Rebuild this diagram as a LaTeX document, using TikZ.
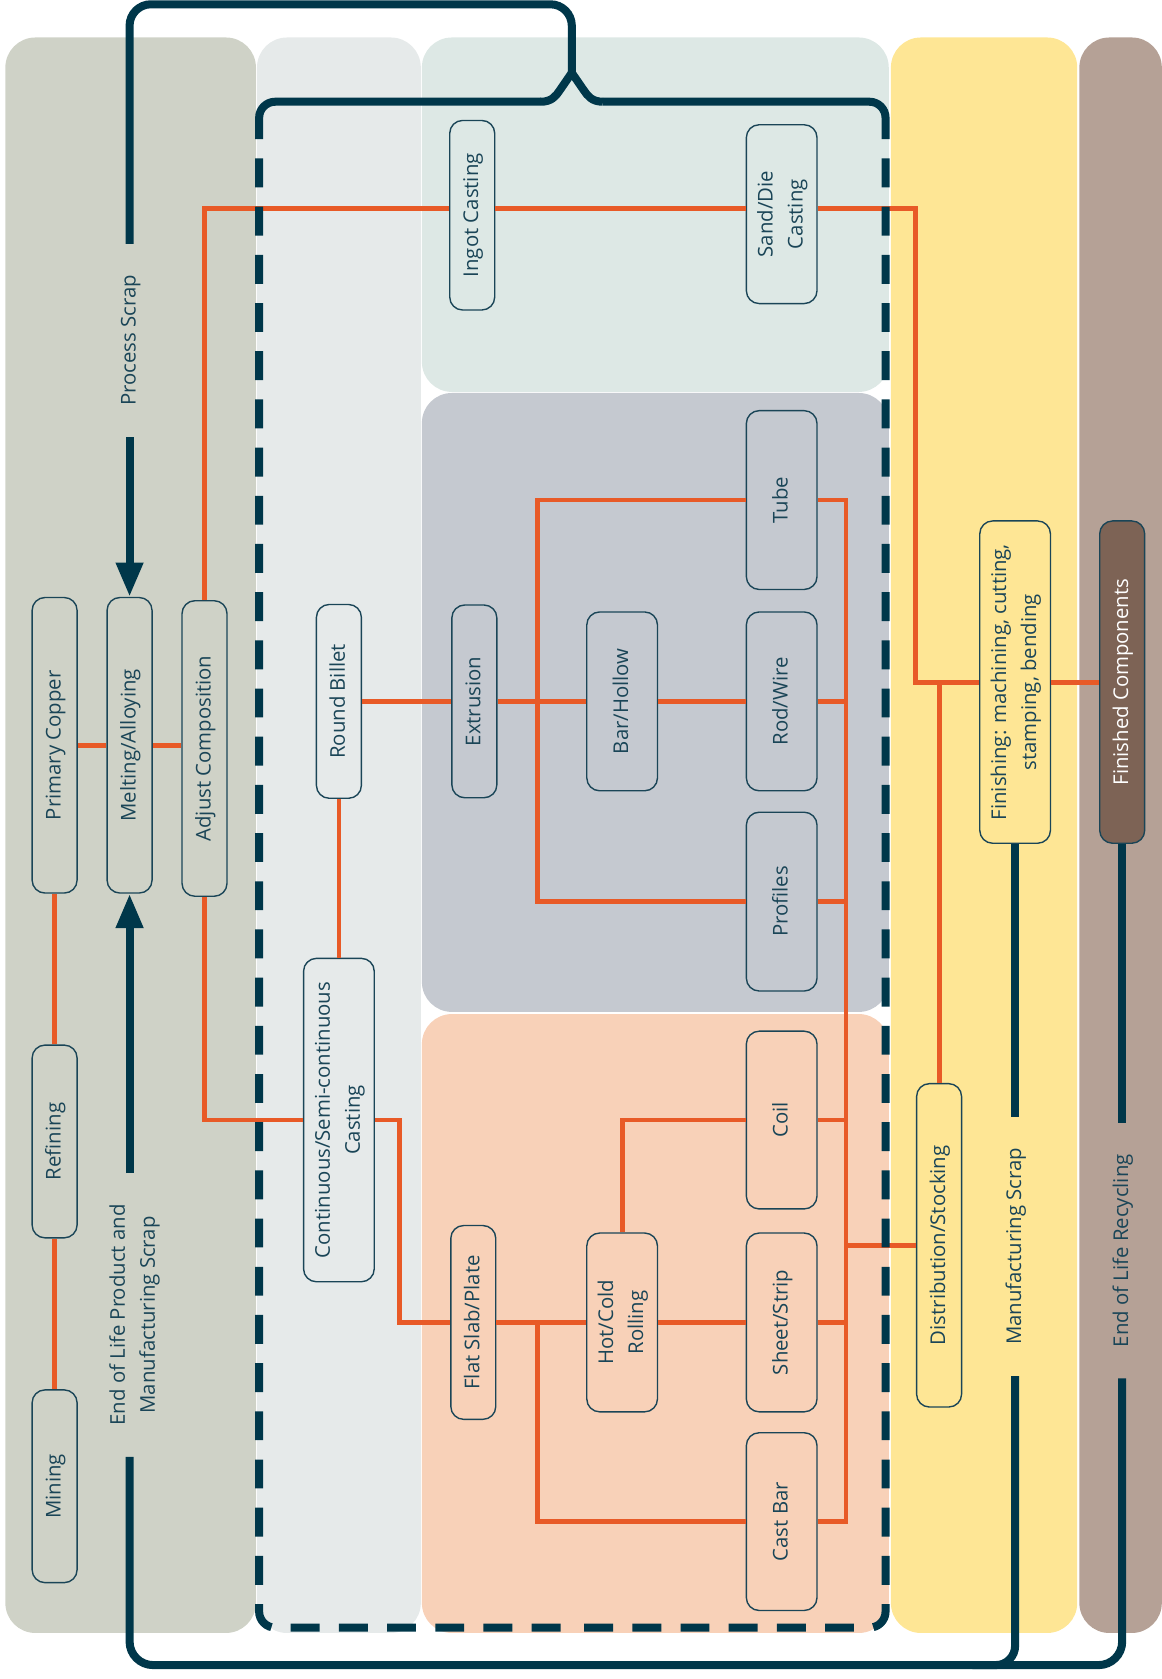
\documentclass[tikz,border=0pt]{standalone}
\usepackage{graphicx}
\usepackage{fontspec}
\setmainfont{Open Sans}
\usetikzlibrary{arrows.meta}
\definecolor{navy}{HTML}{00374A}
\definecolor{orng}{HTML}{E85A27}
\definecolor{txt}{HTML}{1A4557}
\definecolor{pA}{HTML}{CFD2C7}
\definecolor{pB}{HTML}{E6EAEA}
\definecolor{pC}{HTML}{DDE8E5}
\definecolor{pD}{HTML}{C5C9D0}
\definecolor{pE}{HTML}{F8D1B8}
\definecolor{pF}{HTML}{FEE695}
\definecolor{pG}{HTML}{B5A196}
\definecolor{fcbox}{HTML}{7D6355}
\newcommand\vtext[1]{\rotatebox{90}{\begin{tabular}{@{}c@{}}#1\end{tabular}}}
\begin{document}
\begin{tikzpicture}[x=1pt,y=-1pt,
  boxbase/.style={draw=txt, line width=1.3pt, rounded corners=12pt, inner sep=0pt,
    text=txt, font=\fontsize{19}{28}\selectfont, align=center},
  nb/.style={boxbase, minimum width=42pt},
  wb/.style={boxbase, minimum width=66pt},
  lbl/.style={text=txt, font=\fontsize{19}{28}\selectfont, inner xsep=0pt, inner ysep=29pt},
  orl/.style={draw=orng, line width=4.5pt},
  nv/.style={draw=navy, line width=7.5pt},
  tip/.style={-{Triangle[width=24pt,length=32pt]}}
]
\useasboundingbox (0,0) rectangle (1085,1568);
% panels
\fill[pA, rounded corners=28pt] (5,35) rectangle (239,1525);
\fill[pB, rounded corners=28pt] (240,35) rectangle (393,1525);
\fill[pC, rounded corners=28pt] (394,35) rectangle (830,366);
\fill[pD, rounded corners=28pt] (394,367) rectangle (830,945);
\fill[pE, rounded corners=28pt] (394,947) rectangle (830,1525);
\fill[pF, rounded corners=28pt] (832,35) rectangle (1006,1525);
\fill[pG, rounded corners=28pt] (1008,35) rectangle (1085,1525);

% nodes
\node[nb, fill=pA, minimum height=180pt] (mining) at (51,1388) {\vtext{Mining}};
\node[nb, fill=pA, minimum height=180pt] (refining) at (51,1066) {\vtext{Refining}};
\node[nb, fill=pA, minimum height=276pt] (primary) at (51,696) {\vtext{Primary Copper}};
\node[nb, fill=pA, minimum height=276pt] (melting) at (121,696) {\vtext{Melting/Alloying}};
\node[nb, fill=pA, minimum height=276pt] (adjust) at (191,699) {\vtext{Adjust Composition}};
\node[nb, fill=pB, minimum height=181pt] (billet) at (316.5,655) {\vtext{Round Billet}};
\node[wb, fill=pB, minimum height=302pt] (cont) at (316.5,1046) {\vtext{Continuous/Semi-continuous\\Casting}};
\node[nb, fill=pC, minimum height=177pt] (ingot) at (441,201) {\vtext{Ingot Casting}};
\node[wb, fill=pC, minimum height=167pt] (sand) at (730,200) {\vtext{Sand/Die\\Casting}};
\node[nb, fill=pD, minimum height=180pt] (extr) at (443,655) {\vtext{Extrusion}};
\node[wb, fill=pD, minimum height=167pt] (bar) at (581,655) {\vtext{Bar/Hollow}};
\node[wb, fill=pD, minimum height=167pt] (tube) at (730,467) {\vtext{Tube}};
\node[wb, fill=pD, minimum height=167pt] (rod) at (730,655) {\vtext{Rod/Wire}};
\node[wb, fill=pD, minimum height=167pt] (prof) at (730,842) {\vtext{Profiles}};
\node[wb, fill=pE, minimum height=166pt] (coil) at (730,1046) {\vtext{Coil}};
\node[wb, fill=pE, minimum height=167pt] (hot) at (581,1235) {\vtext{Hot/Cold\\Rolling}};
\node[wb, fill=pE, minimum height=167pt] (sheet) at (730,1235) {\vtext{Sheet/Strip}};
\node[wb, fill=pE, minimum height=166pt] (castbar) at (730,1421) {\vtext{Cast Bar}};
\node[nb, fill=pE, minimum height=181pt] (flat) at (442,1235) {\vtext{Flat Slab/Plate}};
\node[nb, fill=pF, minimum height=302pt] (dist) at (877,1163) {\vtext{Distribution/Stocking}};
\node[wb, fill=pF, minimum height=301pt] (finish) at (948,637) {\vtext{Finishing: machining, cutting,\\stamping, bending}};
\node[nb, fill=fcbox, text=white, minimum height=301pt] (fcomp) at (1048,637) {\vtext{Finished Components}};

% labels
\node[lbl] (ps) at (121,318) {\vtext{Process Scrap}};
\node[lbl] (eolp) at (125,1228) {\vtext{End of Life Product and\\Manufacturing Scrap}};
\node[lbl] (ms) at (948,1164) {\vtext{Manufacturing Scrap}};
\node[lbl] (elr) at (1048,1168) {\vtext{End of Life Recycling}};

% helper coordinates
\coordinate (ty) at (0,195);
\coordinate (rj) at (855,0);
\coordinate (bx) at (502,0);
\coordinate (rx) at (790,0);
\coordinate (topy) at (0,4);
\coordinate (boty) at (0,1555);
\coordinate (jn) at (534,68);

% orange flow lines
\draw[orl] (mining.north) -- (refining.south);
\draw[orl] (refining.north) -- (primary.south);
\draw[orl] (primary.east) -- (melting.west);
\draw[orl] (melting.east) -- (melting.east -| adjust.west);
\draw[orl] (adjust.north) |- (ingot.west |- ty);
\draw[orl] (ingot.east |- ty) -- (sand.west |- ty);
\draw[orl] (sand.east |- ty) -- (rj |- ty) -- (rj |- finish.west) -- (finish.west);
\draw[orl] (dist.north) -- (dist.north |- finish.west);
\draw[orl] (finish.east) -- (fcomp.west);
\draw[orl] (adjust.south) |- (cont.west);
\draw[orl] (cont.east) -- ++(23,0) |- (flat.west);
\draw[orl] (billet.south) -- (cont.north);
\draw[orl] (billet.east) -- (extr.west);
\draw[orl] (extr.east) -- (bar.west);
\draw[orl] (bar.east) -- (rod.west);
\draw[orl] (tube.west) -- (tube.west -| bx) -- (prof.west -| bx) -- (prof.west);
\draw[orl] (tube.east) -- (tube.east -| rx) -- (castbar.east -| rx) -- (castbar.east);
\foreach \n in {rod,prof,coil,sheet} \draw[orl] (\n.east) -- (\n.east -| rx);
\draw[orl] (dist.west) -- (dist.west -| rx);
\draw[orl] (flat.east) -- (hot.west);
\draw[orl] (hot.east) -- (sheet.west);
\draw[orl] (hot.north) |- (coil.west);
\draw[orl] (flat.east -| bx) |- (castbar.west);

% navy scrap loop
\draw[nv, rounded corners=20pt] (ps.north) -- (ps.north |- topy) -- (jn |- topy) -- (jn);
\draw[nv, tip] (ps.south) -- (melting.north);
\draw[nv, tip] (eolp.north -| melting.south) -- (melting.south);
\draw[nv, rounded corners=22pt] (eolp.south -| melting.south) -- (boty -| melting.south) -- (boty -| elr.south) -- (elr.south);
\draw[nv, rounded corners=18pt] (ms.south) -- (boty -| ms.south) -- ++(-40,0);
\draw[nv] (finish.south) -- (ms.north);
\draw[nv] (fcomp.south) -- (elr.north);

% dashed enclosure with brace top
\draw[nv, line join=round, rounded corners=15pt] (242,130) -- (242,95) -- (505,95);
\draw[nv, line join=round] (505,95) .. controls (515,95) and (519,90) .. (523,84) -- (jn)
  -- (545,84) .. controls (549,90) and (553,95) .. (563,95);
\draw[nv, line join=round, rounded corners=15pt] (563,95) -- (827,95) -- (827,130);
\draw[nv, dash pattern=on 27pt off 18pt, dash phase=27pt, rounded corners=15pt] (242,130) -- (242,1520) -- (535,1520);
\draw[nv, dash pattern=on 27pt off 18pt, dash phase=27pt, rounded corners=15pt] (827,130) -- (827,1520) -- (535,1520);
\end{tikzpicture}
\end{document}
